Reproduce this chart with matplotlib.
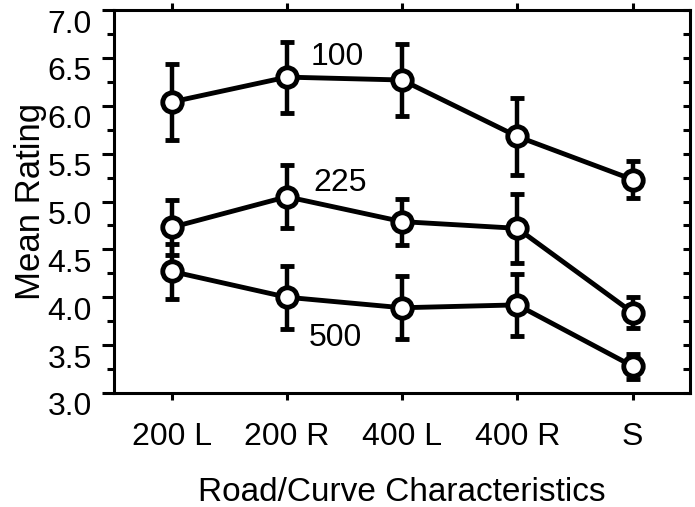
import numpy as np
import matplotlib.pyplot as plt
import matplotlib.transforms as mtransforms
from matplotlib.ticker import MultipleLocator

plt.rcParams['font.family'] = ['Liberation Sans', 'DejaVu Sans']

categories = ["200 L", "200 R", "400 L", "400 R", "S"]
# mean ratings and error bar half-widths for each radius condition
mean_100 = [6.04, 6.30, 6.27, 5.68, 5.23]
err_100 = [0.40, 0.37, 0.38, 0.40, 0.19]
mean_225 = [4.73, 5.05, 4.79, 4.72, 3.84]
err_225 = [0.29, 0.33, 0.24, 0.36, 0.16]
mean_500 = [4.27, 4.00, 3.89, 3.92, 3.28]
err_500 = [0.29, 0.33, 0.33, 0.32, 0.13]
series_labels = ["100", "225", "500"]
label_pos = [(1.44, 6.51), (1.46, 5.19), (1.42, 3.57)]

fig = plt.figure(figsize=(6.95, 5.07), dpi=100)
ax = fig.add_axes([0.164, 0.225, 0.829, 0.755])

x = np.arange(len(categories))
for m, e in [(mean_100, err_100), (mean_225, err_225), (mean_500, err_500)]:
    ax.errorbar(x, m, yerr=e, color="black", lw=3.5, elinewidth=3.2, capsize=5,
                capthick=3.5, marker="o", ms=14, mfc="white", mec="black", mew=3.5,
                zorder=3)

for lab, (lx, ly) in zip(series_labels, label_pos):
    ax.text(lx, ly, lab, fontsize=23, ha="center", va="center")

ax.set_xlim(-0.5, 4.5)
ax.set_ylim(3.0, 7.0)
ax.set_xticks(x)
ax.set_xticklabels(categories)
ax.yaxis.set_major_locator(MultipleLocator(0.5))
ax.yaxis.set_minor_locator(MultipleLocator(0.25))
ax.yaxis.set_major_formatter(plt.FormatStrFormatter("%.1f"))

for s in ax.spines.values():
    s.set_linewidth(2.2)

ax.tick_params(axis="y", which="major", direction="out", length=9, width=2.2,
               labelsize=23, pad=7)
ax.tick_params(axis="y", which="minor", direction="out", length=5, width=2.2)
ax.tick_params(axis="x", direction="out", length=5, width=2.2, labelsize=23, pad=16)

# y labels sit a bit below their ticks in the original
shift = mtransforms.ScaledTranslation(0, -11 / 100, fig.dpi_scale_trans)
for lbl in ax.get_yticklabels():
    lbl.set_transform(lbl.get_transform() + shift)

ax_r = ax.secondary_yaxis("right")
ax_r.yaxis.set_major_locator(MultipleLocator(0.25))
ax_r.tick_params(direction="in", length=5, width=2.2, labelright=False)

ax_t = ax.secondary_xaxis("top")
ax_t.set_xticks(x)
ax_t.tick_params(direction="out", length=5, width=2.2, labeltop=False)

ax.set_xlabel("Road/Curve Characteristics", fontsize=24, labelpad=18)
ax.set_ylabel("Mean Rating", fontsize=25, labelpad=0.5)

fig.savefig("out.png", dpi=100)
